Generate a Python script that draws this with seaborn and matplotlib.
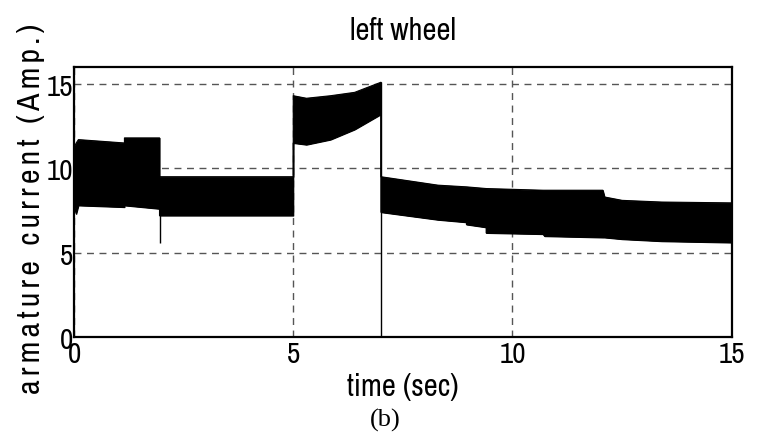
import numpy as np
import pandas as pd
import seaborn as sns
import matplotlib.pyplot as plt
from matplotlib import font_manager

# envelope of the (fast switching) armature current
t_env = [0.0, 0.05, 0.1, 1.15, 1.15, 1.95, 1.95, 5.0, 5.0, 5.3, 5.85, 6.4, 7.0, 7.0,
         8.3, 8.95, 8.95, 9.4, 9.4, 10.7, 10.73, 12.06, 12.1, 12.5, 13.4, 15.0]
upper = [11.2, 11.5, 11.7, 11.5, 11.8, 11.8, 9.5, 9.5, 14.3, 14.15, 14.3, 14.5, 15.1, 9.5,
         9.0, 8.9, 8.9, 8.8, 8.8, 8.7, 8.7, 8.7, 8.3, 8.1, 8.0, 7.95]
lower = [7.8, 7.3, 7.8, 7.7, 7.8, 7.6, 7.2, 7.2, 11.5, 11.4, 11.7, 12.3, 13.2, 7.4,
         6.95, 6.8, 6.67, 6.5, 6.17, 6.1, 5.98, 5.9, 5.9, 5.8, 5.68, 5.6]

# transients when the load changes
spike_t = [1.95, 7.0]
spike_lo = [5.6, 0.0]
spike_hi = [7.6, 15.1]

xticks = [0, 5, 10, 15]
yticks = [0, 5, 10, 15]

# look for a narrow face, like the original Arial Narrow
fonts = font_manager.fontManager.ttflist
narrow, stretch = 'DejaVu Sans', 'normal'
for key in ['Narrow', 'Condensed']:
    hit = [f.name for f in fonts if key in f.name]
    if hit:
        narrow = sorted(hit)[0]
        break
else:
    hit = [f.name for f in fonts if f.stretch in ('condensed', 'semi-condensed', 'extra-condensed', 75, 87)]
    if hit:
        narrow, stretch = sorted(hit)[0], 'condensed'

sns.set_style("white")
plt.rcParams['font.family'] = [narrow, 'DejaVu Sans']
plt.rcParams['font.stretch'] = stretch
plt.rcParams['text.color'] = 'black'
plt.rcParams['axes.labelcolor'] = 'black'

df = pd.DataFrame({'t': t_env, 'upper': upper, 'lower': lower})

fig = plt.figure(figsize=(7.71, 4.39), dpi=100)
ax = fig.add_axes([0.096, 0.230, 0.853, 0.615])

ax.fill_between(df['t'], df['lower'], df['upper'], color='black', linewidth=0.8)
sns.lineplot(data=df, x='t', y='upper', color='black', lw=0.8, ax=ax,
             sort=False, estimator=None)
sns.lineplot(data=df, x='t', y='lower', color='black', lw=0.8, ax=ax,
             sort=False, estimator=None)
ax.vlines(spike_t, spike_lo, spike_hi, color='black', lw=1.0)

ax.set_xlim(0, 15)
ax.set_ylim(0, 16)
ax.set_xticks(xticks)
ax.set_yticks(yticks)
ax.set_xticklabels([str(v) for v in xticks], fontsize=21)
ax.set_yticklabels([str(v) for v in yticks], fontsize=21)
ax.tick_params(direction='in', length=5, width=1, colors='black', pad=2)
ax.tick_params(axis='y', pad=1)
ax.grid(True, ls=(0, (5, 4)), color='#555555', lw=1.0)
for s in ax.spines.values():
    s.set_color('black')
    s.set_linewidth(1.6)

ax.set_title('left wheel', fontsize=22, pad=20)
ax.set_xlabel('time (sec)', fontsize=22, labelpad=4)
# the original prints this label letter-spaced
ylab = ax.set_ylabel('\u2009'.join('armature current (Amp.)'), fontsize=23, labelpad=1)
ylab.set_y(0.48)
fig.text(0.5, 0.028, '(b)', ha='center', fontsize=19, family='Liberation Serif')

fig.savefig('out.png', dpi=100)
